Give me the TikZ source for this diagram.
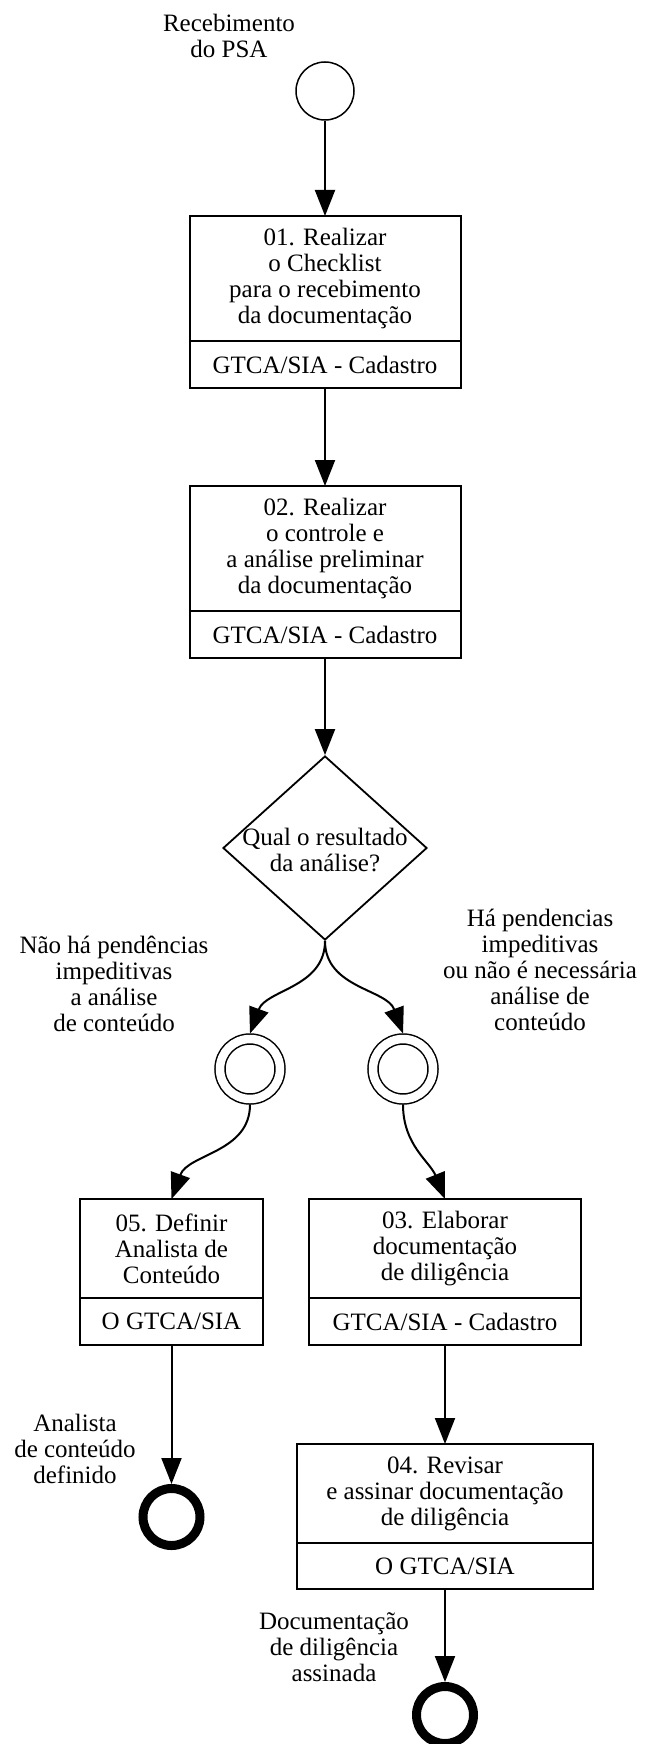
\documentclass[tikz,border=0pt]{standalone}
\usepackage{fontspec}
\setmainfont{Liberation Serif}
\usetikzlibrary{arrows.meta,positioning,shapes.geometric}

\begin{document}
\begin{tikzpicture}[x=1pt,y=1pt,
  font=\fontsize{25}{26}\selectfont,
  every node/.style={align=center},
  flow/.style={line width=2pt,-{Triangle[length=26pt,width=20pt]}},
  activity/.style={draw,line width=2pt,inner sep=0pt,outer sep=0pt,minimum width=#1,minimum height=99pt},
  role/.style={draw,line width=2pt,inner sep=0pt,outer sep=0pt,minimum width=#1,minimum height=47pt},
  start/.style={draw,circle,line width=1.5pt,minimum size=58pt,inner sep=0pt},
  catch/.style={draw,circle,line width=1.5pt,double,double distance=8.5pt,minimum size=60pt,inner sep=0pt,outer sep=5.5pt},
  finish/.style={draw,circle,line width=9pt,minimum size=57pt,inner sep=0pt},
  gateway/.style={draw,diamond,line width=1.8pt,minimum width=204pt,minimum height=184pt,inner sep=0pt}]
\fill[white] (0,0) rectangle (646,-1744);
\useasboundingbox (0,0) rectangle (646,-1744);

% start
\node[start] (s) at (325,-91) {};
\node (ls) at (229,-36) {Recebimento\\do PSA};

% 01 and 02
\node[activity=271pt,minimum height=125pt] (a01) at (325,-278.5) {01. Realizar\\o Checklist\\para o recebimento\\da documentação};
\node[role=271pt,below=0pt of a01] (r01) {GTCA/SIA - Cadastro};
\node[activity=271pt,minimum height=125pt] (a02) at (325,-548.5) {02. Realizar\\o controle e\\a análise preliminar\\da documentação};
\node[role=271pt,below=0pt of a02] (r02) {GTCA/SIA - Cadastro};

% gateway
\node[gateway] (g) at (325,-848) {};
\node (gq) at (325,-850) {Qual o resultado\\da análise?};
\node (lyes) at (114,-984) {Não há pendências\\impeditivas\\a análise\\de conteúdo};
\node (lno) at (540,-970) {Há pendencias\\impeditivas\\ou não é necessária\\análise de\\conteúdo};
\node[catch] (c1) at (250,-1069) {};
\node[catch] (c2) at (403,-1069) {};

% 05, 03, 04
\node[activity=183pt] (a05) at (171.5,-1248.5) {05. Definir\\Analista de\\Conteúdo};
\node[role=183pt,below=0pt of a05] (r05) {O GTCA/SIA};
\node[activity=272pt] (a03) at (445,-1248.5) {03. Elaborar\\documentação\\de diligência};
\node[role=272pt,below=0pt of a03] (r03) {GTCA/SIA - Cadastro};
\node[activity=296pt] (a04) at (445,-1493.5) {04. Revisar\\e assinar documentação\\de diligência};
\node[role=296pt,minimum height=46pt,below=0pt of a04] (r04) {O GTCA/SIA};

% ends
\node[finish] (e1) at (171.5,-1517) {};
\node (le1) at (75,-1449) {Analista\\de conteúdo\\definido};
\node[finish] (e2) at (445,-1715) {};
\node (le2) at (334,-1647) {Documentação\\de diligência\\assinada};

\draw[flow] (s) -- (a01);
\draw[flow] (r01) -- (a02);
\draw[flow] (r02) -- (g);
\draw[flow] (g.south) to[out=-90,in=70] (c1.north);
\draw[flow] (g.south) to[out=-90,in=110] (c2.north);
\draw[flow] (c1.south) to[out=-90,in=70] (a05.north);
\draw[flow] (c2.south) to[out=-90,in=112] (a03.north);
\draw[flow] (r05) -- (e1);
\draw[flow] (r03) -- (a04);
\draw[flow] (r04) -- (e2);
\end{tikzpicture}
\end{document}
